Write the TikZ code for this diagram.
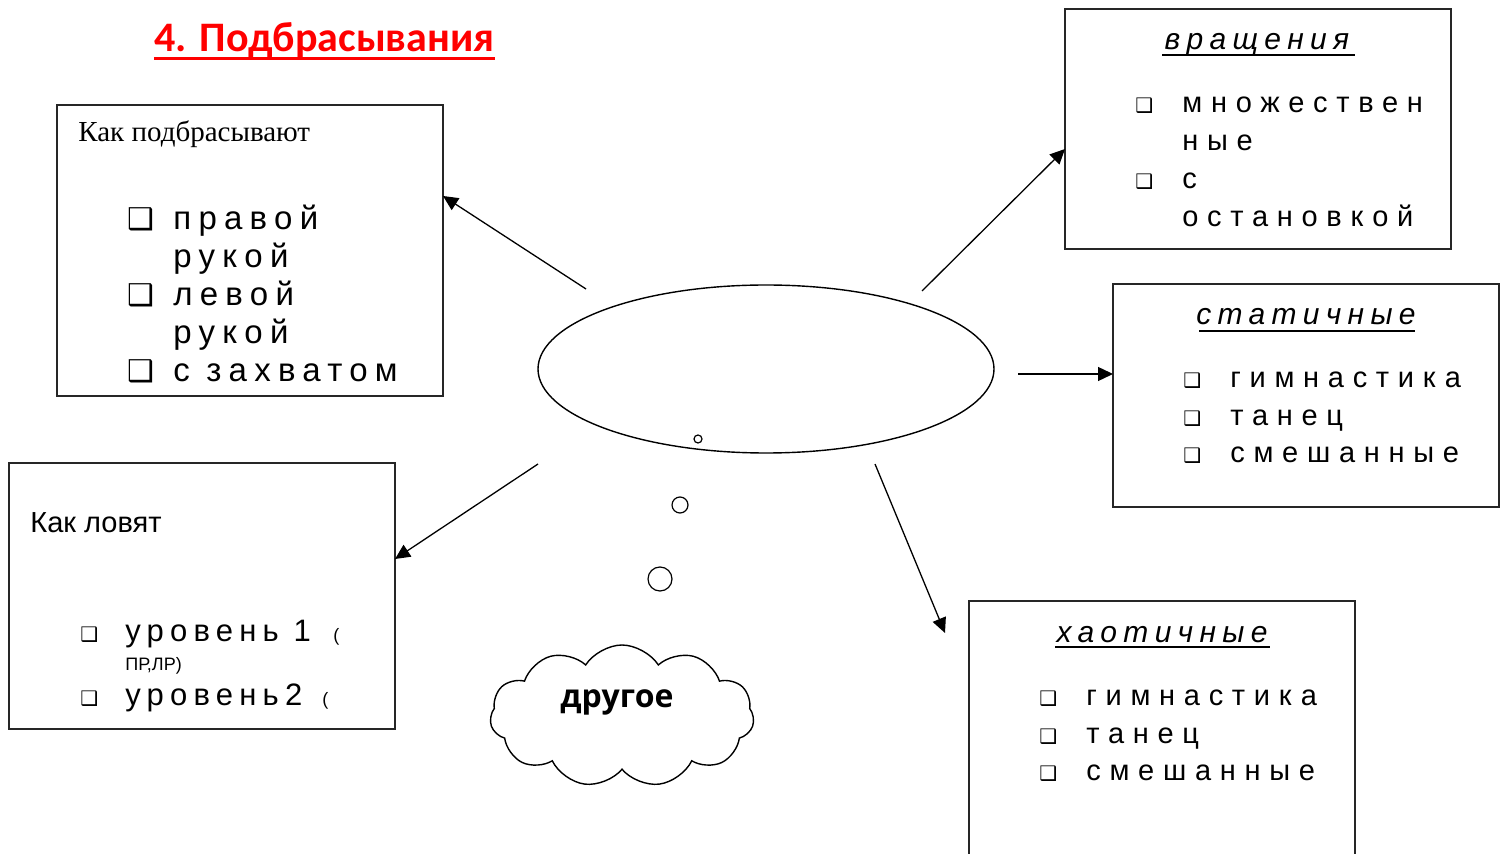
\documentclass[tikz,border=0pt]{standalone}
\usepackage{fontspec}
\setmainfont{Liberation Serif}
\newfontfamily\titlefont{Carlito}
\newfontfamily\arialf{Liberation Sans}
\newfontfamily\dejav{DejaVu Sans}
\newfontfamily\osans{Open Sans}
\newfontfamily\bigspaced[LetterSpace=22]{Liberation Sans}
\newfontfamily\midspaced[LetterSpace=20]{Liberation Sans}
\newfontfamily\widespaced[LetterSpace=30]{Liberation Sans}
\newfontfamily\italspaced[LetterSpace=21]{Liberation Sans}
\usetikzlibrary{arrows.meta,shapes.geometric,shapes.symbols}
\tikzset{
  frame/.style={draw=black!85, line width=0.7pt, rectangle, inner sep=0pt},
  txt/.style={inner sep=0pt, anchor=base west},
  ctxt/.style={inner sep=0pt, anchor=base},
  arr/.style={line width=0.65pt, -{Triangle[length=7.5pt,width=7pt]}},
  bub/.style={draw, circle, line width=0.6pt, inner sep=0pt},
  uline/.style={line width=0.8pt},
  bigitem/.style={txt, font=\bigspaced\fontsize{16.5}{18}\selectfont},
  bigbul/.style={txt, font=\dejav\fontsize{15}{16}\selectfont},
  miditem/.style={txt, font=\midspaced\fontsize{15.5}{17}\selectfont},
  smitem/.style={txt, font=\widespaced\fontsize{14.5}{16}\selectfont},
  smbul/.style={txt, font=\dejav\fontsize{10}{11}\selectfont},
  ital/.style={ctxt, font=\italspaced\itshape\fontsize{15}{17}\selectfont},
}
\begin{document}
\begin{tikzpicture}[x=0.5pt,y=-0.5pt]
\clip (0,0) rectangle (1507,854);
\fill[white] (0,0) rectangle (1507,854);

% title
\node[txt, font=\titlefont\bfseries\fontsize{21}{24}\selectfont, text=red] (title) at (154,52) {4. Подбрасывания};
\draw[red, line width=1.5pt] ([yshift=-3.5pt]title.base west) -- ([yshift=-3.5pt]title.base east);

% box 1
\node[frame, minimum width=193pt, minimum height=145.5pt] (box1) at (250,250.5) {};
\node[txt, font=\fontsize{14.5}{16}\selectfont] (h1) at (78,142) {Как подбрасывают};
\node[bigbul] (b11) at (127,230) {❑};
\node[bigitem] (t11) at (173,230) {правой};
\node[bigitem] (t12) at (173,268) {рукой};
\node[bigbul] (b12) at (127,306) {❑};
\node[bigitem] (t13) at (173,306) {левой};
\node[bigitem] (t14) at (173,344) {рукой};
\node[bigbul] (b13) at (127,382) {❑};
\node[bigitem] (t15) at (173,382) {с захватом};

% box 2
\node[frame, minimum width=193pt, minimum height=133pt] (box2) at (202,596) {};
\node[txt, font=\arialf\fontsize{14.5}{16}\selectfont] (h2) at (30,532) {Как ловят};
\node[smbul] (b21) at (80,641) {❑};
\node[miditem] (t21) at (125,641) {уровень 1};
\node[txt, font=\arialf\fontsize{9}{10}\selectfont] (t21b) at (333,641) {(};
\node[txt, font=\arialf\fontsize{9}{10}\selectfont] (t22) at (125,670) {ПР,ЛР)};
\node[smbul] (b22) at (80,705) {❑};
\node[miditem] (t23) at (125,705) {уровень2};
\node[txt, font=\arialf\fontsize{9}{10}\selectfont] (t23b) at (322,705) {(};

% box 3
\node[frame, minimum width=193pt, minimum height=120pt] (box3) at (1258,129) {};
\node[ital] (h3) at (1257,50) {вращения};
\draw[uline] (1162,55) -- (1355,55);
\node[smbul] (b31) at (1135,113) {❑};
\node[smitem] (t31) at (1182,113) {множествен};
\node[smitem] (t32) at (1182,151) {ные};
\node[smbul] (b32) at (1135,189) {❑};
\node[smitem] (t33) at (1182,189) {с};
\node[smitem] (t34) at (1182,227) {остановкой};

% box 4
\node[frame, minimum width=193pt, minimum height=111.5pt] (box4) at (1306,395.5) {};
\node[ital] (h4) at (1306,325) {статичные};
\draw[uline] (1199,331) -- (1415,331);
\node[smbul] (b41) at (1183,388) {❑};
\node[smitem] (t41) at (1230,388) {гимнастика};
\node[smbul] (b42) at (1183,426) {❑};
\node[smitem] (t42) at (1230,426) {танец};
\node[smbul] (b43) at (1183,463) {❑};
\node[smitem] (t43) at (1230,463) {смешанные};

% box 5
\node[frame, minimum width=193pt, minimum height=160pt] (box5) at (1162,761) {};
\node[ital] (h5) at (1162,642) {хаотичные};
\draw[uline] (1055,647) -- (1270,647);
\node[smbul] (b51) at (1039,705) {❑};
\node[smitem] (t51) at (1086,705) {гимнастика};
\node[smbul] (b52) at (1039,743) {❑};
\node[smitem] (t52) at (1086,743) {танец};
\node[smbul] (b53) at (1039,780) {❑};
\node[smitem] (t53) at (1086,780) {смешанные};

% central ellipse and thought bubbles
\node[draw, ellipse, line width=0.7pt, minimum width=228pt, minimum height=84pt, inner sep=0pt] (ell) at (766,369) {};
\node[bub, minimum size=4pt] (c1) at (698,439) {};
\node[bub, minimum size=8pt] (c2) at (680,505) {};
\node[bub, minimum size=12pt] (c3) at (660,579) {};
\node[draw, cloud, cloud puffs=11, cloud puff arc=115, aspect=1.86, line width=0.7pt, minimum width=132pt, minimum height=71pt, inner sep=0pt] (cl) at (622,716) {};
\node[ctxt, font=\osans\bfseries\fontsize{16}{18}\selectfont] (other) at (617,707) {другое};

% arrows
\coordinate (s1) at (586,289); \coordinate (e1) at (443,196);
\coordinate (s2) at (538,464); \coordinate (e2) at (395,559);
\coordinate (s3) at (922,291); \coordinate (e3) at (1065,149);
\coordinate (s4) at (1018,374); \coordinate (e4) at (1113,374);
\coordinate (s5) at (875,464); \coordinate (e5) at (945,633);
\draw[arr] (s1) -- (e1);
\draw[arr] (s2) -- (e2);
\draw[arr] (s3) -- (e3);
\draw[arr] (s4) -- (e4);
\draw[arr] (s5) -- (e5);
\end{tikzpicture}
\end{document}
